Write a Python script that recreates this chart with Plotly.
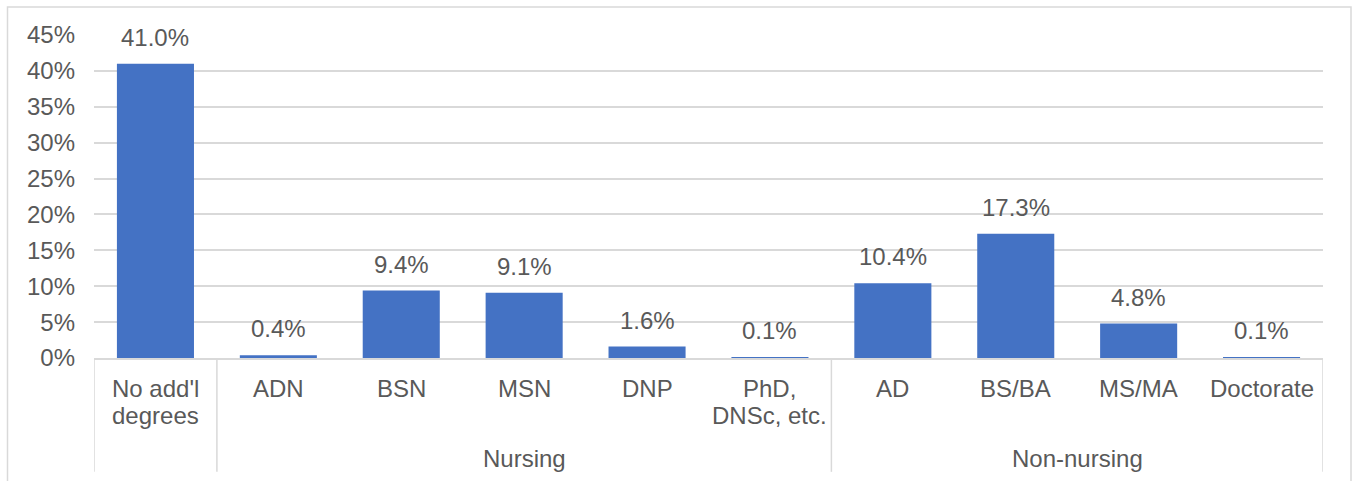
import plotly.graph_objects as go

# ---- data ----
categories = ["No add'l<br>degrees", "ADN", "BSN", "MSN", "DNP", "PhD,<br>DNSc, etc.",
              "AD", "BS/BA", "MS/MA", "Doctorate"]
values = [41.0, 0.4, 9.4, 9.1, 1.6, 0.1, 10.4, 17.3, 4.8, 0.1]
value_labels = ["41.0%", "0.4%", "9.4%", "9.1%", "1.6%", "0.1%", "10.4%", "17.3%", "4.8%", "0.1%"]
groups = ["Nursing", "Non-nursing"]
group_members = [[1, 2, 3, 4, 5], [6, 7, 8, 9]]
y_tickvals = [0, 5, 10, 15, 20, 25, 30, 35, 40, 45]
y_ticktext = ["0%", "5%", "10%", "15%", "20%", "25%", "30%", "35%", "40%", "45%"]

# ---- layout constants (pixels) ----
W, H = 1353, 481
L, R, T, B = 94, 1323, 34.5, 358
pw, ph = R - L, B - T

def px_x(p):
    return (p - L) / pw

def px_y(p):
    return (B - p) / ph

FONT = "Liberation Sans, Arial, sans-serif"
TXT = "#595959"
GRID = "#D9D9D9"
FS = 24

x = list(range(len(categories)))

fig = go.Figure()
fig.add_trace(go.Bar(x=x, y=values, marker=dict(color="#4472C4", line=dict(width=0)),
                     hoverinfo="skip"))

annotations = []
# value labels
for xi, v, t in zip(x, values, value_labels):
    annotations.append(dict(x=xi, y=v, xref="x", yref="y", text=t, showarrow=False,
                            yanchor="bottom", yshift=11,
                            font=dict(family=FONT, size=FS, color=TXT)))
# category labels (one annotation per line for Excel-like line spacing)
for xi, c in zip(x, categories):
    for li, line in enumerate(c.split("<br>")):
        annotations.append(dict(x=xi, y=px_y(373 + 27 * li), xref="x", yref="paper",
                                text=line, showarrow=False, yanchor="top",
                                font=dict(family=FONT, size=FS, color=TXT)))
# group labels
for g, mem in zip(groups, group_members):
    annotations.append(dict(x=(mem[0] + mem[-1]) / 2, y=px_y(443), xref="x", yref="paper",
                            text=g, showarrow=False, yanchor="top",
                            font=dict(family=FONT, size=FS, color=TXT)))

shapes = []
# dividers
for d in [-0.5, 0.5, 5.5, 9.5]:
    shapes.append(dict(type="line", xref="x", yref="paper", x0=d, x1=d,
                       y0=0, y1=px_y(472), line=dict(color=GRID, width=1.5)))
# outer chart border
shapes.append(dict(type="rect", xref="paper", yref="paper",
                   x0=px_x(7.5), x1=px_x(1351), y0=px_y(495), y1=px_y(6.5),
                   line=dict(color=GRID, width=1.5), layer="below"))

fig.update_layout(
    width=W, height=H,
    margin=dict(l=L, r=W - R, t=T, b=H - B, pad=0),
    paper_bgcolor="white", plot_bgcolor="white",
    showlegend=False, bargap=0.373,
    font=dict(family=FONT, size=FS, color=TXT),
    annotations=annotations, shapes=shapes,
)
fig.update_xaxes(range=[-0.5, 9.5], showticklabels=False, showgrid=False,
                 showline=True, linecolor=GRID, linewidth=1.5, zeroline=False,
                 fixedrange=True)
fig.update_yaxes(range=[0, 45], tickvals=y_tickvals, ticktext=y_ticktext,
                 showgrid=True, gridcolor=GRID, gridwidth=1.5, zeroline=False,
                 showline=False, ticks="", ticklabelstandoff=18,
                 tickfont=dict(family=FONT, size=FS, color=TXT), fixedrange=True)

fig.write_html("out.html", config={"displayModeBar": False},
               post_script="document.body.style.margin='0';document.body.style.overflow='hidden';")
